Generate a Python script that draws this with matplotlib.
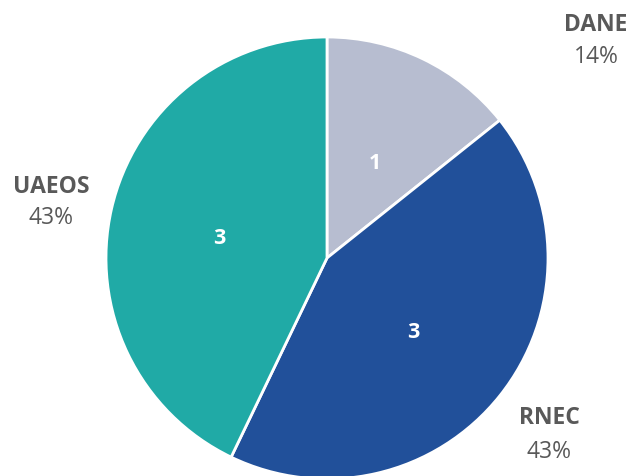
import matplotlib
matplotlib.use("Agg")
import matplotlib.pyplot as plt
import matplotlib.transforms as mtransforms

categories = ["DANE", "RNEC", "UAEOS"]
values = [1, 3, 3]
colors = ["#b7bdd0", "#21509a", "#20aaa6"]
pct_labels = ["14%", "43%", "43%"]

plt.rcParams['font.family'] = ['Open Sans', 'DejaVu Sans']

W, H = 631, 477
fig = plt.figure(figsize=(W / 100, H / 100), dpi=100)
cx, cy, r = 327, 259, 221
ax = fig.add_axes([(cx - r) / W, (H - cy - r) / H, 2 * r / W, 2 * r / H])
wedges, texts = ax.pie(values, colors=colors, startangle=90, counterclock=False,
                       radius=1, wedgeprops=dict(edgecolor="white", linewidth=2.0),
                       labels=[str(v) for v in values], labeldistance=0.5,
                       textprops=dict(color="white", fontsize=15.5, fontweight="bold",
                                      ha="center", va="center"))
for t in texts:
    t.set_transform(mtransforms.offset_copy(t.get_transform(), fig=fig, x=0, y=-4.5, units="dots"))
ax.set_xlim(-1, 1)
ax.set_ylim(-1, 1)
ax.set_aspect("equal")
ax.axis("off")

label_pos = {"DANE": (596, 25, 57), "RNEC": (549, 418, 452), "UAEOS": (51, 187, 218)}
for cat, pct in zip(categories, pct_labels):
    x, y1, y2 = label_pos[cat]
    fig.text(x / W, 1 - y1 / H, cat, ha="center", va="center", fontsize=16.5,
             fontweight="bold", color="#595959")
    fig.text(x / W, 1 - y2 / H, pct, ha="center", va="center", fontsize=16.5,
             color="#595959")

fig.savefig("out.png", dpi=100)
